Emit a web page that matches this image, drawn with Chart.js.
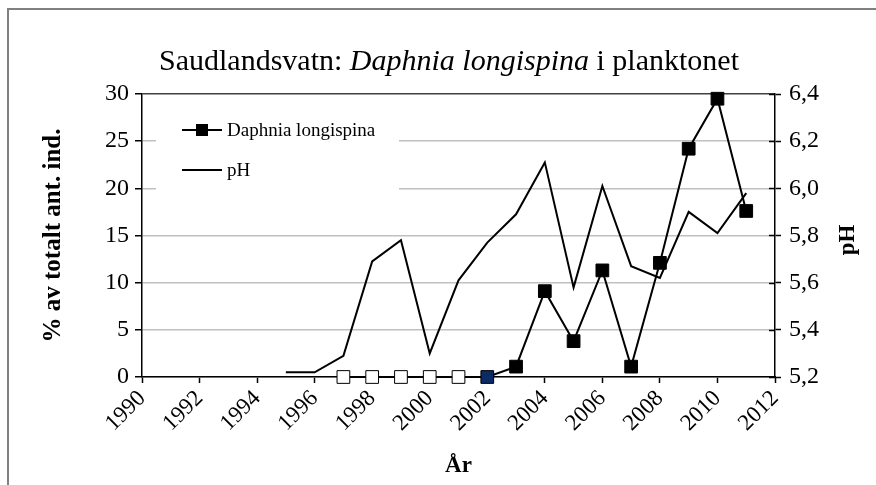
<!DOCTYPE html>
<html>
<head>
<meta charset="utf-8">
<script src="https://cdn.jsdelivr.net/npm/chart.js@4.4.1/dist/chart.umd.min.js"></script>
<style>
  html, body { margin: 0; padding: 0; background: #fff; }
  #wrap { width: 876px; height: 485px; position: relative; }
</style>
</head>
<body>
<div id="wrap"><canvas id="chart"></canvas></div>
<script>
const FONT = "'Liberation Serif', 'Times New Roman', serif";
const GRIDCOLOR = "#c0c0c0";

const YEARS = [1995, 1996, 1997, 1998, 1999, 2000, 2001, 2002, 2003, 2004, 2005, 2006, 2007, 2008, 2009, 2010, 2011];
const DAPHNIA = [null, null, 0, 0, 0, 0, 0, 0, 1.1, 9.1, 3.8, 11.3, 1.1, 12.1, 24.2, 29.5, 17.6];
const PH = [5.22, 5.22, 5.29, 5.69, 5.78, 5.30, 5.61, 5.77, 5.89, 6.11, 5.58, 6.01, 5.67, 5.62, 5.90, 5.81, 5.98];
// marker fill per year: white before 2002, dark blue in 2002, black after
const MARKERFILL = ["#000", "#000", "#fff", "#fff", "#fff", "#fff", "#fff", "#0b2a66", "#000", "#000", "#000", "#000", "#000", "#000", "#000", "#000", "#000"];

const TITLE = ["Saudlandsvatn: ", "Daphnia longispina", " i planktonet"];
const LEGEND = ["Daphnia longispina", "pH"];

function toPoints(values) {
    return YEARS.map((y, i) => ({ x: y, y: values[i] }));
}

const frame = {
    id: "frame",
    beforeDraw(chart) {
        const ctx = chart.ctx;
        ctx.save();
        ctx.strokeStyle = "#808080";
        ctx.lineWidth = 2;
        ctx.strokeRect(8, 9, 900, 600);
        ctx.restore();
    },
    afterDraw(chart) {
        const ctx = chart.ctx;
        ctx.save();
        // title with italic species name
        const fonts = ["30px " + FONT, "italic 30px " + FONT, "30px " + FONT];
        let total = 0;
        const widths = TITLE.map((t, i) => { ctx.font = fonts[i]; const w = ctx.measureText(t).width; total += w; return w; });
        let x = 449 - total / 2;
        ctx.fillStyle = "#000";
        ctx.textBaseline = "middle";
        TITLE.forEach((t, i) => { ctx.font = fonts[i]; ctx.fillText(t, x, 62); x += widths[i]; });

        // right axis title, reading bottom to top
        ctx.save();
        ctx.translate(848, 240);
        ctx.rotate(-Math.PI / 2);
        ctx.font = "bold 23px " + FONT;
        ctx.textAlign = "center";
        ctx.fillText("pH", 0, 0);
        ctx.restore();

        // right axis inner tick marks
        const yR = chart.scales.yR;
        ctx.strokeStyle = "#000";
        ctx.lineWidth = 1.5;
        yR.ticks.forEach((t, i) => {
            const py = Math.round(yR.getPixelForTick(i)) + 0.5;
            ctx.beginPath();
            ctx.moveTo(yR.left - 6, py);
            ctx.lineTo(yR.left, py);
            ctx.stroke();
        });
        ctx.restore();
    },
    afterDatasetsDraw(chart) {
        // legend box inside plot area
        const ctx = chart.ctx;
        const a = chart.chartArea;
        ctx.save();
        ctx.fillStyle = "#fff";
        ctx.fillRect(a.left + 14, a.top + 14, 243, 92);
        ctx.font = "19px " + FONT;
        ctx.fillStyle = "#000";
        ctx.strokeStyle = "#000";
        ctx.lineWidth = 2;
        ctx.textBaseline = "middle";
        const lx = a.left + 40;
        const rows = [a.top + 36, a.top + 76];
        rows.forEach((ry, i) => {
            ctx.beginPath();
            ctx.moveTo(lx, ry);
            ctx.lineTo(lx + 40, ry);
            ctx.stroke();
            if (i === 0) {
                ctx.fillRect(lx + 14, ry - 6, 12, 12);
            }
            ctx.fillText(LEGEND[i], lx + 45, ry + 1);
        });
        ctx.restore();
    }
};

const ctx = document.querySelector("#chart").getContext("2d");
const configuration = {
    type: "line",
    data: {
        datasets: [{
            label: LEGEND[0],
            data: toPoints(DAPHNIA),
            yAxisID: "y",
            borderColor: "#000",
            borderWidth: 2,
            pointStyle: "rect",
            pointRadius: 9,
            pointBackgroundColor: MARKERFILL,
            pointBorderColor: "#000",
            pointBorderWidth: 1,
            spanGaps: false,
            clip: false,
            order: 0
        }, {
            label: LEGEND[1],
            data: toPoints(PH),
            yAxisID: "yR",
            borderColor: "#000",
            borderWidth: 2,
            pointRadius: 0,
            clip: false,
            order: 1
        }]
    },
    options: {
        responsive: true,
        maintainAspectRatio: false,
        animation: false,
        layout: { padding: { left: 35, right: 0, top: 94, bottom: 1 } },
        scales: {
            x: {
                type: "linear",
                min: 1990,
                max: 2012,
                afterFit: (s) => { s.height = 107; },
                ticks: {
                    stepSize: 2,
                    minRotation: 45,
                    maxRotation: 45,
                    color: "#000",
                    font: { family: FONT, size: 23 },
                    callback: (v) => String(v),
                    padding: 2
                },
                grid: { drawOnChartArea: false, tickLength: 6, tickColor: "#000", tickWidth: 1.5 },
                border: { color: "#000", width: 1.5 },
                title: { display: true, text: "År", color: "#000", font: { family: FONT, size: 23, weight: "bold" }, padding: 4 }
            },
            y: {
                position: "left",
                min: 0,
                max: 30,
                afterFit: (s) => { s.width = 107; },
                ticks: {
                    stepSize: 5,
                    color: "#000",
                    font: { family: FONT, size: 24 },
                    padding: 6
                },
                grid: {
                    color: (c) => c.tick && c.tick.value === 30 ? "#404040" : GRIDCOLOR,
                    lineWidth: 1.5,
                    tickLength: 7,
                    tickColor: "#000",
                    tickWidth: 1.5
                },
                border: { color: "#000", width: 1.5 },
                title: { display: true, text: "% av totalt ant. ind.", color: "#000", font: { family: FONT, size: 25, weight: "bold" }, padding: 4 }
            },
            yR: {
                position: "right",
                min: 5.2,
                max: 6.4,
                afterFit: (s) => { s.width = 101; },
                ticks: {
                    stepSize: 0.2,
                    color: "#000",
                    font: { family: FONT, size: 24 },
                    padding: 8,
                    callback: (v) => v.toFixed(1).replace(".", ",")
                },
                grid: { drawOnChartArea: false, tickLength: 6, tickColor: "#000", tickWidth: 1.5 },
                border: { color: "#000", width: 1.5 }
            }
        },
        plugins: {
            legend: { display: false },
            tooltip: { enabled: false }
        }
    },
    plugins: [frame]
};
new Chart(ctx, configuration);
</script>
</body>
</html>
